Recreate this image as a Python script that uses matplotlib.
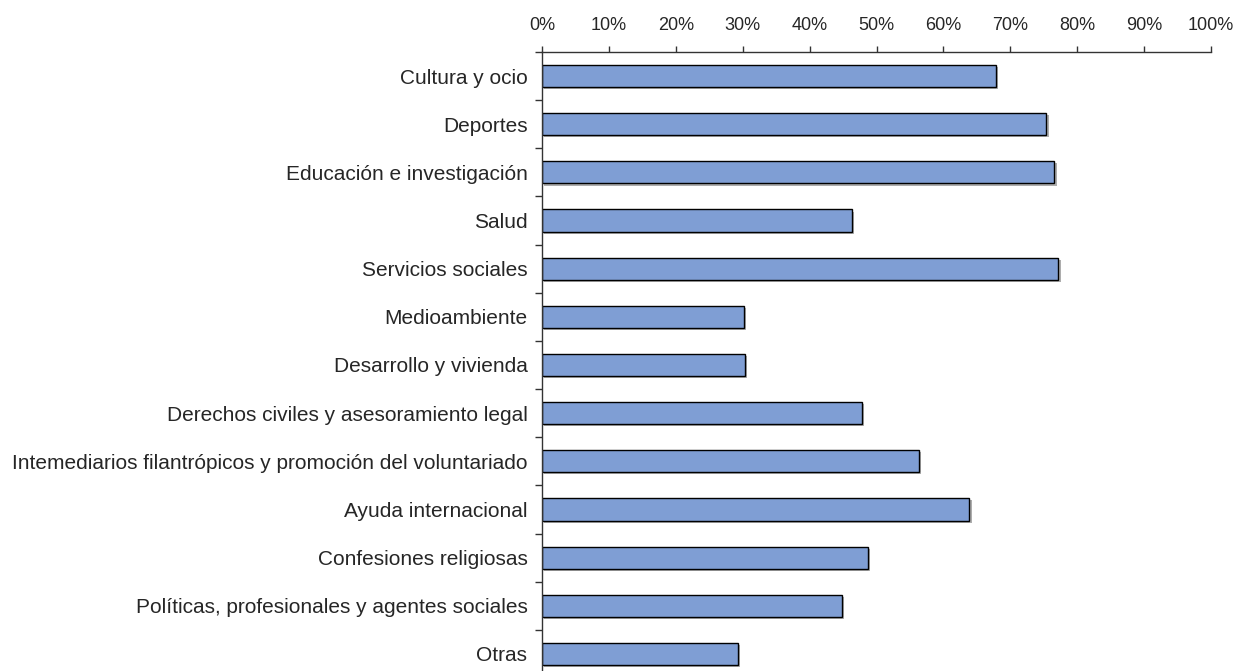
import matplotlib
matplotlib.use("Agg")
import matplotlib.pyplot as plt
import matplotlib.patheffects as pe
import numpy as np
from matplotlib.ticker import FixedLocator, PercentFormatter

categories = [
    "Cultura y ocio",
    "Deportes",
    "Educación e investigación",
    "Salud",
    "Servicios sociales",
    "Medioambiente",
    "Desarrollo y vivienda",
    "Derechos civiles y asesoramiento legal",
    "Intemediarios filantrópicos y promoción del voluntariado",
    "Ayuda internacional",
    "Confesiones religiosas",
    "Políticas, profesionales y agentes sociales",
    "Otras",
]
values = [67.8, 75.4, 76.6, 46.4, 77.2, 30.2, 30.4, 47.8, 56.3, 63.9, 48.7, 44.9, 29.3]
xticks = list(range(0, 101, 10))

plt.rcParams['font.family'] = ['Liberation Sans', 'DejaVu Sans']

fig = plt.figure(figsize=(12.39, 6.71), dpi=100)
ax = fig.add_axes([542/1239, -7/671, (1211-542)/1239, (678-52)/671])

y = np.arange(len(categories))
bars = ax.barh(y, values, height=0.46, color="#7F9ED4", edgecolor="black", linewidth=1.0)
for b in bars:
    b.set_path_effects([pe.SimplePatchShadow(offset=(1.5, -1.5), shadow_rgbFace="#999999", alpha=0.8), pe.Normal()])

ax.set_xlim(0, 100)
ax.set_ylim(len(categories) - 0.5, -0.5)
ax.xaxis.set_major_locator(FixedLocator(xticks))
ax.xaxis.set_major_formatter(PercentFormatter(decimals=0))
ax.xaxis.tick_top()
ax.tick_params(axis='x', which='major', direction='out', length=4.5, width=1, pad=8.5, labelsize=13, colors='#333333', labelcolor='#262626')

ax.set_yticks(y)
ax.set_yticklabels(categories)
ax.set_yticks(np.arange(-0.5, len(categories), 1.0), minor=True)
ax.tick_params(axis='y', which='major', length=0, pad=10.5, labelsize=15, labelcolor='#262626')
ax.tick_params(axis='y', which='minor', direction='out', length=5, width=1, colors='#333333')

for s in ['right', 'bottom']:
    ax.spines[s].set_visible(False)
for s in ['top', 'left']:
    ax.spines[s].set_linewidth(1)
    ax.spines[s].set_color('#333333')

fig.savefig("out.png", dpi=100)
